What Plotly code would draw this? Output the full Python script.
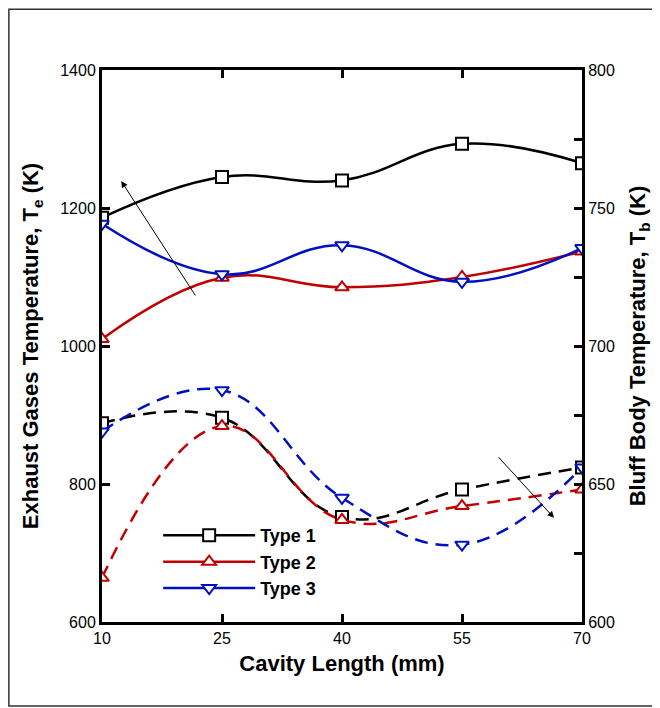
import plotly.graph_objects as go

cavity_length = [10, 25, 40, 55, 70]

# Exhaust gases temperature Te (K) - left axis, solid lines
te_type1 = [1186, 1245, 1240, 1293, 1265]
te_type2 = [1010, 1099, 1085, 1100, 1137]
te_type3 = [1177, 1104, 1146, 1093, 1142]

# Bluff body temperature Tb (K) - right axis, dashed lines
tb_type1 = [672, 674, 638, 648, 656]
tb_type2 = [616, 671, 637, 642, 648]
tb_type3 = [669, 684, 645, 628, 656]

series_names = ["Type 1", "Type 2", "Type 3"]
colors = ["#000000", "#C00000", "#0010C0"]
symbols = ["square", "triangle-up", "triangle-down"]

fig = go.Figure()

te_all = [te_type1, te_type2, te_type3]
tb_all = [tb_type1, tb_type2, tb_type3]

for name, col, sym, te in zip(series_names, colors, symbols, te_all):
    fig.add_trace(go.Scatter(
        x=cavity_length, y=te, name=name, legendgroup=name,
        mode="lines+markers",
        line=dict(color=col, width=2.5, shape="spline", smoothing=1.2),
        marker=dict(symbol=sym, size=12, color="white", line=dict(color=col, width=2)),
        yaxis="y",
    ))

for name, col, sym, tb in zip(series_names, colors, symbols, tb_all):
    fig.add_trace(go.Scatter(
        x=cavity_length, y=tb, name=name, legendgroup=name, showlegend=False,
        mode="lines+markers",
        line=dict(color=col, width=2.5, shape="spline", smoothing=1.2, dash="13px,8px"),
        marker=dict(symbol=sym, size=12, color="white", line=dict(color=col, width=2)),
        yaxis="y2",
    ))

# Trend arrows
fig.add_annotation(x=12.4, y=1239, ax=21.8, ay=1071, xref="x", yref="y",
                   axref="x", ayref="y", showarrow=True, arrowhead=2,
                   arrowsize=1.3, arrowwidth=1, arrowcolor="black", text="")
fig.add_annotation(x=66.5, y=751, ax=59.4, ay=841, xref="x", yref="y",
                   axref="x", ayref="y", showarrow=True, arrowhead=2,
                   arrowsize=1.3, arrowwidth=1, arrowcolor="black", text="")

# Outer frame
fig.add_shape(type="rect", xref="paper", yref="paper", x0=-0.194, x1=1.152,
              y0=-0.152, y1=1.11, line=dict(color="#333333", width=1.5))

tickfont = dict(family="Arial, Liberation Sans", size=16, color="black")
titlefont = dict(family="Arial, Liberation Sans", size=22, color="black", weight="bold")

fig.update_layout(
    width=652, height=700,
    paper_bgcolor="white", plot_bgcolor="white",
    margin=dict(l=94, r=78, t=62, b=86),
    showlegend=True,
    legend=dict(x=0.117, y=0.19, xanchor="left", yanchor="top",
                bgcolor="rgba(0,0,0,0)",
                font=dict(family="Arial, Liberation Sans", size=18, color="black", weight="bold"),
                tracegroupgap=0, itemwidth=92),
    xaxis=dict(range=[10, 70], tickvals=cavity_length, ticks="inside", ticklen=8,
               tickwidth=2.5, tickcolor="black", showline=True, linewidth=3,
               linecolor="black", mirror="ticks", showgrid=False, zeroline=False,
               tickfont=tickfont,
               title=dict(text="Cavity Length (mm)", font=titlefont, standoff=10)),
    yaxis=dict(range=[600, 1400], dtick=200, ticks="inside", ticklen=8,
               tickwidth=2.5, tickcolor="black", showline=True, linewidth=3,
               linecolor="black", showgrid=False, zeroline=False, tickfont=tickfont,
               title=dict(text="Exhaust Gases Temperature, T<sub>e</sub> (K)",
                          font=titlefont, standoff=16)),
    yaxis2=dict(range=[600, 800], dtick=50, overlaying="y", side="right",
                ticks="inside", ticklen=8, tickwidth=2.5, tickcolor="black",
                minor=dict(dtick=25, ticks="inside", ticklen=8, tickwidth=2.5, tickcolor="black"),
                showline=True, linewidth=3, linecolor="black", showgrid=False,
                zeroline=False, tickfont=tickfont,
                title=dict(text="Bluff Body Temperature, T<sub>b</sub> (K)",
                           font=titlefont, standoff=16)),
)

fig.write_html("out.html")
